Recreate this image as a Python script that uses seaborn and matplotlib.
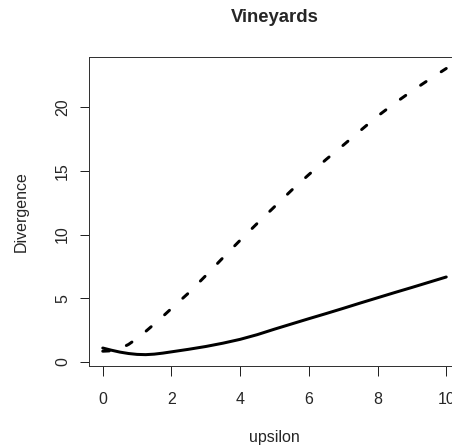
import numpy as np
import pandas as pd
import seaborn as sns
import matplotlib
matplotlib.use("Agg")
import matplotlib.pyplot as plt

# --- data ---
upsilon = [0, 0.25, 0.5, 0.75, 1, 1.25, 1.5, 1.75, 2, 2.5, 3, 3.5, 4, 4.5, 5,
           5.5, 6, 6.5, 7, 7.5, 8, 8.5, 9, 9.5, 10]
solid_div = [1.1, 0.93, 0.78, 0.67, 0.6, 0.58, 0.62, 0.7, 0.8, 1.0, 1.22, 1.48, 1.78,
             2.15, 2.58, 2.99, 3.4, 3.8, 4.21, 4.63, 5.04, 5.45, 5.85, 6.26, 6.67]
dashed_div = [0.85, 0.88, 1.05, 1.38, 1.85, 2.4, 2.98, 3.58, 4.2, 5.42, 6.78, 8.18, 9.55,
              10.88, 12.18, 13.48, 14.7, 15.88, 17.0, 18.15, 19.28, 20.3, 21.25, 22.15, 23.02]
xticks = [0, 2, 4, 6, 8, 10]
yticks = [0, 5, 10, 15, 20]

df = pd.DataFrame({"upsilon": upsilon, "solid": solid_div, "dashed": dashed_div})

sns.set_style("white")
plt.rcParams["font.family"] = ["Liberation Sans", "DejaVu Sans"]

fig = plt.figure(figsize=(452 / 72, 448 / 72), dpi=72)
ax = fig.add_axes([89 / 452, 1 - 366 / 448, 371 / 452, 309 / 448])

sns.lineplot(data=df, x="upsilon", y="dashed", color="black", lw=3, ax=ax,
             linestyle=(0, (2.2, 6)), dash_capstyle="round")
sns.lineplot(data=df, x="upsilon", y="solid", color="black", lw=3, ax=ax,
             solid_capstyle="round")

ax.set_xlim(-0.4, 10.4)
ax.set_ylim(-0.31, 23.92)
ax.set_xticks(xticks)
ax.set_yticks(yticks)
ax.tick_params(axis="both", direction="out", length=9.5, width=1, color="#222222",
               labelsize=16, bottom=True, left=True)
ax.tick_params(axis="x", pad=16)
ax.tick_params(axis="y", pad=9.5)
for lab in ax.get_yticklabels():
    lab.set_rotation(90)
    lab.set_va("center")

for sp in ax.spines.values():
    sp.set_visible(True)
    sp.set_color("#333333")
    sp.set_linewidth(1)

ax.set_xlabel("upsilon", fontsize=16)
ax.set_ylabel("Divergence", fontsize=16)
ax.xaxis.set_label_coords(0.5, (366 - 437.5) / 309)
ax.xaxis.label.set_va("center")
ax.yaxis.set_label_coords((21 - 89) / 371, 0.5)
ax.yaxis.label.set_va("center")

ax.set_title("Vineyards", fontsize=18.5, fontweight="bold", y=(366 - 17) / 309,
             va="center", pad=0)

fig.savefig("out.png", dpi=72)
